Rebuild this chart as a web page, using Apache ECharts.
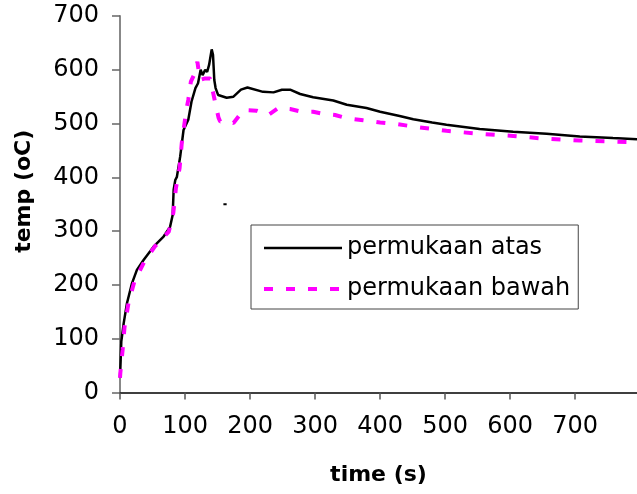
<!DOCTYPE html>
<html>
<head>
<meta charset="utf-8">
<script src="https://cdn.jsdelivr.net/npm/echarts@6/dist/echarts.min.js"></script>
<style>html,body{margin:0;padding:0;background:#fff}#c{width:637px;height:494px}</style>
</head>
<body>
<div id="c"></div>
<script>
var xTicks = [0, 100, 200, 300, 400, 500, 600, 700];
var yTicks = [0, 100, 200, 300, 400, 500, 600, 700];
var seriesNames = ['permukaan atas', 'permukaan bawah'];
// [time (s), temp (oC)]
var atas = [[0,28],[1,60],[2,95],[3,104],[5.7,129],[10.7,166],[18.4,203],[26,228],[36,246],[51.6,271],[67,290],[77,308],[81,330],[82.5,377],[85,395],[87.5,401],[92.6,439],[97.7,488],[105,507],[110,541],[116,566],[120,575],[124,600],[127,590],[131,600],[134,596],[137,609],[141,638],[143,628],[145,581],[147,566],[151,553],[164,548],[174.5,550],[186,563],[196,567],[220,559],[236,558],[249,563],[261.6,563],[277,555],[297,549],[328,543],[348.7,535],[379,529],[400,522],[430,514],[451,508],[480,502],[502,498],[553,490],[604.6,485],[656,481],[707,476],[758,473],[795,471]];
var bawah = [[0,27],[0.5,36],[4,79],[7,122],[13,166],[22,206],[38,245],[54,272],[75,299],[82,334],[86,380],[91.6,417],[95,464],[102,525],[105,544],[109,578],[114,591],[119,615],[123,581],[131,584],[138.7,584],[145,547],[151.5,511],[154,504],[164,505],[174.5,501],[190,525],[210,524],[228,516],[243.6,529],[261.6,527],[279.6,522],[297,522],[312.8,518],[330.7,516],[348.7,510],[374,506],[400,502],[425.5,499],[451,494.5],[502,486.5],[553,481],[604.6,477],[656,471.6],[707,468.5],[758,466.7],[795,465]];
var stray = [[159,350],[164,350]];

var FONT = 'DejaVu Sans';
var chart = echarts.init(document.getElementById('c'));
chart.setOption({
  animation: false,
  backgroundColor: '#fff',
  grid: {left: 120, right: 0, top: 16, bottom: 101.5},
  xAxis: {
    type: 'value', min: 0, max: 795,
    name: 'time (s)', nameLocation: 'middle', nameGap: 72,
    nameTextStyle: {fontFamily: FONT, fontSize: 22, fontWeight: 'bold', color: '#000'},
    axisLine: {lineStyle: {color: '#000', width: 1.5}},
    axisTick: {show: true, length: 7, lineStyle: {color: '#555', width: 1.5}, customValues: xTicks},
    axisLabel: {fontFamily: FONT, fontSize: 24, color: '#000', margin: 22, customValues: xTicks},
    splitLine: {show: false}
  },
  yAxis: {
    type: 'value', min: 0, max: 700, interval: 100,
    name: 'temp (oC)', nameLocation: 'middle', nameGap: 85, nameRotate: 90,
    nameTextStyle: {fontFamily: FONT, fontSize: 22, fontWeight: 'bold', color: '#000', padding: [0, 0, 0, 26]},
    axisLine: {show: true, lineStyle: {color: '#888', width: 2}},
    axisTick: {show: true, length: 8, lineStyle: {color: '#666', width: 1.5}},
    axisLabel: {fontFamily: FONT, fontSize: 24, color: '#000', margin: 21, customValues: yTicks},
    splitLine: {show: false}
  },
  legend: {
    orient: 'vertical', left: 251, top: 225,
    data: [
      {name: seriesNames[0], lineStyle: {width: 2.5, color: '#000'}},
      {name: seriesNames[1], lineStyle: {width: 4, color: '#ff00ff', type: [9, 13]}}
    ],
    itemWidth: 78, itemHeight: 24, itemGap: 17,
    padding: [11, 8, 8, 11],
    borderColor: '#444', borderWidth: 1,
    itemStyle: {opacity: 0},
    textStyle: {fontFamily: FONT, fontSize: 24, color: '#000'}
  },
  series: [
    {name: seriesNames[0], type: 'line', data: atas, symbol: 'none', lineStyle: {color: '#000', width: 2.5}, itemStyle: {color: '#000'}},
    {name: seriesNames[1], type: 'line', data: bawah, symbol: 'none', lineStyle: {color: '#ff00ff', width: 4, type: [9, 13]}, itemStyle: {color: '#ff00ff'}},
    {name: 'stray', type: 'line', data: stray, symbol: 'none', lineStyle: {color: '#000', width: 2}, silent: true}
  ]
});
</script>
</body>
</html>
